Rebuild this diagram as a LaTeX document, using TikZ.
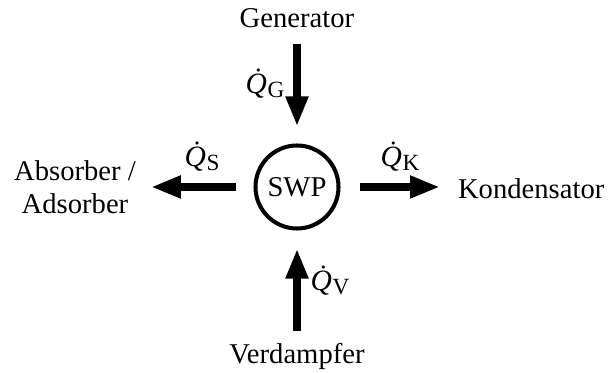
\documentclass[tikz,border=0pt]{standalone}
\usepackage{fontspec}
\setmainfont{Liberation Serif}
\usetikzlibrary{arrows.meta,positioning}
\newcommand{\heatflow}[1]{{\itshape\.{Q}}\kern0.02em\raisebox{-0.14em}{\fontsize{13.2}{14}\selectfont #1}}

\begin{document}
\begin{tikzpicture}[
      lbl/.style={font=\fontsize{16.3}{19}\selectfont, inner sep=0pt, outer sep=0pt, align=center},
      heat/.style={font=\fontsize{16.8}{19}\selectfont, inner sep=0pt},
      flow/.style={-{Triangle[length=0.6cm, width=0.42cm]}, line width=4.5pt, black},
      pump/.style={circle, draw, line width=2.3pt, minimum size=1.66cm, inner sep=0pt,
                   font=\fontsize{16.3}{19}\selectfont}
    ]
      \useasboundingbox (-5.94,-3.72) rectangle (6.22,3.74);

      \node[pump] (swp) at (0,0) {SWP};

      \node[lbl] (gen) at (0,3.38) {Generator};
      \node[lbl] (verd) at (0,-3.38) {Verdampfer};
      \node[lbl, anchor=west] (kond) at (3.22,-0.04) {Kondensator};
      \node[lbl] (abs) at (-4.44,0) {Absorber /\\Adsorber};

      % Waermestroeme
      \draw[flow, shorten <=0.32cm, shorten >=0.34cm] (gen) -- (swp);
      \draw[flow, shorten <=0.24cm, shorten >=0.36cm] (verd) -- (swp);
      \draw[flow, shorten <=0.38cm, shorten >=0.36cm] (swp) -- (kond.west |- swp);
      \draw[flow, shorten <=0.34cm, shorten >=0.30cm] (swp) -- (abs.east |- swp);

      \node[heat] (qg) at (-0.64,2.06) {\heatflow{G}};
      \node[heat] (qs) at (-1.90,0.60) {\heatflow{S}};
      \node[heat] (qk) at (2.06,0.60) {\heatflow{K}};
      \node[heat] (qv) at (0.66,-1.88) {\heatflow{V}};
    \end{tikzpicture}
\end{document}
